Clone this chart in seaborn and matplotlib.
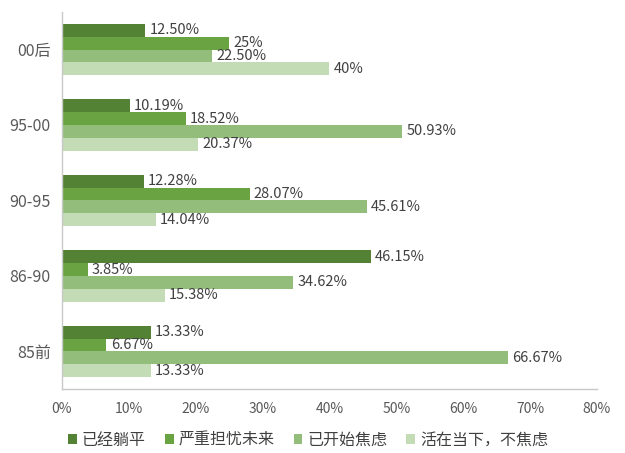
import pandas as pd
import seaborn as sns
import matplotlib.pyplot as plt
from matplotlib.ticker import PercentFormatter

# 数据
groups = ['00后', '95-00', '90-95', '86-90', '85前']
series = ['已经躺平', '严重担忧未来', '已开始焦虑', '活在当下，不焦虑']
tangping = [12.50, 10.19, 12.28, 46.15, 13.33]
danyou = [25, 18.52, 28.07, 3.85, 6.67]
jiaolv = [22.50, 50.93, 45.61, 34.62, 66.67]
dangxia = [40, 20.37, 14.04, 15.38, 13.33]
labels = [
    ['12.50%', '10.19%', '12.28%', '46.15%', '13.33%'],
    ['25%', '18.52%', '28.07%', '3.85%', '6.67%'],
    ['22.50%', '50.93%', '45.61%', '34.62%', '66.67%'],
    ['40%', '20.37%', '14.04%', '15.38%', '13.33%'],
]
colors = ['#548235', '#6aa442', '#93bd7b', '#c4dcb6']

df = pd.DataFrame({'group': groups * 4,
                   'series': [s for s in series for _ in groups],
                   'value': tangping + danyou + jiaolv + dangxia})

sns.set_style('white')
plt.rcParams['font.family'] = ['Noto Sans CJK SC', 'DejaVu Sans']

fig = plt.figure(figsize=(6.25, 4.53), dpi=100)
ax = fig.add_axes([0.099, 0.141, 0.856, 0.833])

sns.barplot(data=df, x='value', y='group', hue='series', order=groups,
            hue_order=series, palette=colors, width=0.68, orient='h', ax=ax,
            saturation=1, errorbar=None, linewidth=0)

for cont, lab in zip(ax.containers, labels):
    ax.bar_label(cont, labels=lab, padding=3, fontsize=10.5, color='#404040')

ax.set_xlim(0, 80)
ax.set_xticks(range(0, 81, 10))
ax.xaxis.set_major_formatter(PercentFormatter(decimals=0))
ax.set_xlabel('')
ax.set_ylabel('')
ax.tick_params(axis='x', labelsize=10, labelcolor='#595959', length=0, pad=9)
ax.tick_params(axis='y', labelsize=11.5, labelcolor='#595959', length=0, pad=8)
for s in ['top', 'right']:
    ax.spines[s].set_visible(False)
for s in ['left', 'bottom']:
    ax.spines[s].set_color('#c8c8c8')
    ax.spines[s].set_linewidth(1)

ax.legend(loc='upper center', bbox_to_anchor=(0.46, -0.075), ncol=4, frameon=False,
          fontsize=11.5, handlelength=0.55, handleheight=0.55, handletextpad=0.3,
          columnspacing=1.2, labelcolor='#404040')

fig.savefig('out.png', dpi=100)
